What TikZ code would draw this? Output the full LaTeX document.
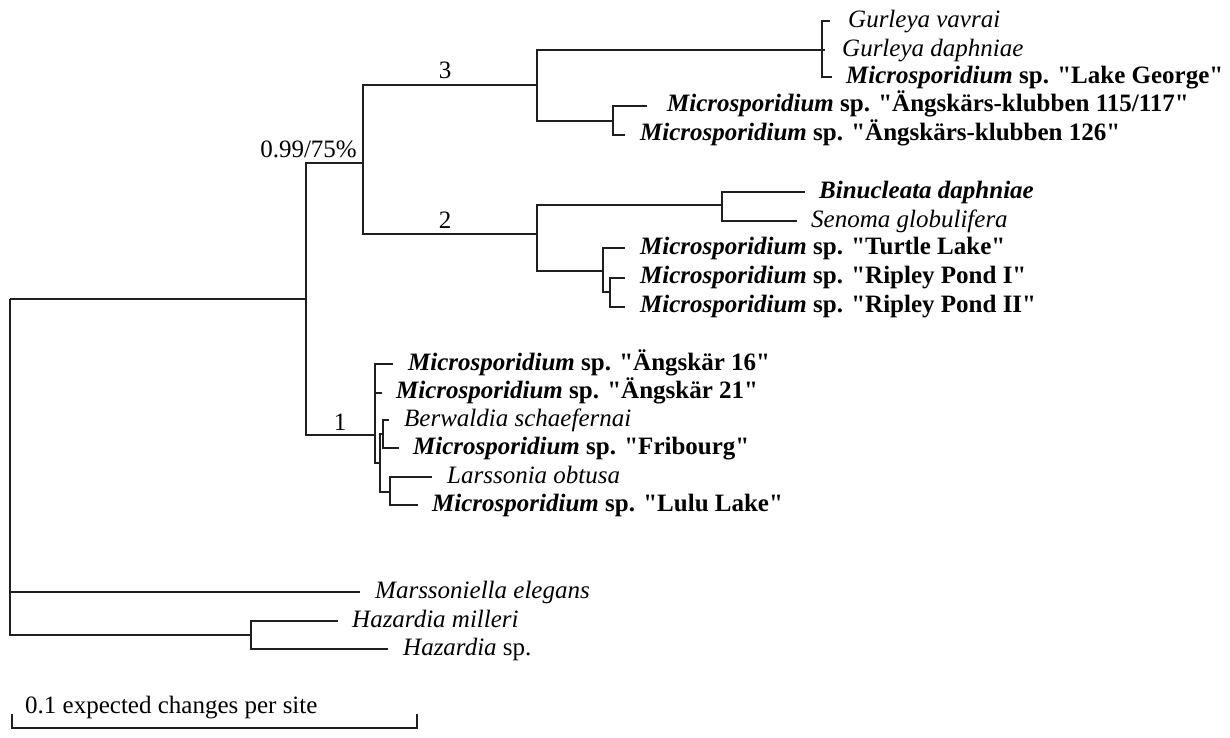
\documentclass[tikz,border=0pt]{standalone}
\usepackage{fontspec}
\setmainfont{Liberation Serif}[Ligatures=TeXOff]
\begin{document}
\begin{tikzpicture}[x=1pt,y=-1pt,
  br/.style={line width=2.8pt, line join=miter, line cap=butt, draw=black!88},
  leaf/.style={anchor=base west, inner sep=0pt, font=\fontsize{25}{30}\selectfont},
  blab/.style={anchor=base, inner sep=0pt, font=\fontsize{25}{30}\selectfont}]
\useasboundingbox (0,0) rectangle (1230,738);
\newcommand{\msp}[1]{\textbf{\textit{Microsporidium} sp. "#1"}}
% internal nodes
\coordinate (R) at (10,299);
\coordinate (I) at (306,299);
\coordinate (N99) at (363,163);
\coordinate (C3) at (537,85);
\coordinate (G) at (822,50);
\coordinate (K) at (613,121);
\coordinate (C2) at (537,234);
\coordinate (B) at (722,205);
\coordinate (T) at (603,271);
\coordinate (RP) at (610,292);
\coordinate (A) at (375,435);
\coordinate (E) at (380,463);
\coordinate (C) at (383,434);
\coordinate (D) at (390,492);
\coordinate (Hz) at (251,635);
% leaf tips
\coordinate (tvav) at (830,21);
\coordinate (tdaph) at (825,50);
\coordinate (tlg) at (832,77);
\coordinate (t115) at (647,106);
\coordinate (t126) at (625,135);
\coordinate (tbin) at (805,192);
\coordinate (tsen) at (797,221);
\coordinate (ttur) at (625,248);
\coordinate (tr1) at (625,278);
\coordinate (tr2) at (625,307);
\coordinate (ta16) at (393,364);
\coordinate (ta21) at (382,393);
\coordinate (tber) at (389,420);
\coordinate (tfri) at (399,448);
\coordinate (tlar) at (432,477);
\coordinate (tlul) at (418,505);
\coordinate (tmar) at (360,592);
\coordinate (tmil) at (338,621);
\coordinate (thsp) at (388,649);
% edges
\draw[br] (R) |- (I);
\draw[br] (R) |- (tmar);
\draw[br] (R) |- (Hz);
\draw[br] (I) |- (N99);
\draw[br] (I) |- (A);
\draw[br] (N99) |- (C3);
\draw[br] (N99) |- (C2);
\draw[br] (C3) |- (G);
\draw[br] (C3) |- (K);
\draw[br] (G) |- (tvav);
\draw[br] (G) |- (tdaph);
\draw[br] (G) |- (tlg);
\draw[br] (K) |- (t115);
\draw[br] (K) |- (t126);
\draw[br] (C2) |- (B);
\draw[br] (C2) |- (T);
\draw[br] (B) |- (tbin);
\draw[br] (B) |- (tsen);
\draw[br] (T) |- (ttur);
\draw[br] (T) |- (RP);
\draw[br] (RP) |- (tr1);
\draw[br] (RP) |- (tr2);
\draw[br] (A) |- (ta16);
\draw[br] (A) |- (ta21);
\draw[br] (A) |- (E);
\draw[br] (E) |- (C);
\draw[br] (E) |- (D);
\draw[br] (C) |- (tber);
\draw[br] (C) |- (tfri);
\draw[br] (D) |- (tlar);
\draw[br] (D) |- (tlul);
\draw[br] (Hz) |- (tmil);
\draw[br] (Hz) |- (thsp);
% leaf labels
\node[leaf] (lvav) at (848,28) {\textit{Gurleya vavrai}};
\node[leaf] (ldaph) at (842,57) {\textit{Gurleya daphniae}};
\node[leaf] (llg) at (846,84) {\msp{Lake George}};
\node[leaf] (l115) at (667,112) {\msp{Ängskärs-klubben 115/117}};
\node[leaf] (l126) at (640,141) {\msp{Ängskärs-klubben 126}};
\node[leaf] (lbin) at (819,198) {\textbf{\textit{Binucleata daphniae}}};
\node[leaf] (lsen) at (811,227) {\textit{Senoma globulifera}};
\node[leaf] (ltur) at (640,254) {\msp{Turtle Lake}};
\node[leaf] (lr1) at (640,283) {\msp{Ripley Pond I}};
\node[leaf] (lr2) at (640,312) {\msp{Ripley Pond II}};
\node[leaf] (la16) at (408,370) {\msp{Ängskär 16}};
\node[leaf] (la21) at (396,398) {\msp{Ängskär 21}};
\node[leaf] (lber) at (404,426) {\textit{Berwaldia schaefernai}};
\node[leaf] (lfri) at (413,454) {\msp{Fribourg}};
\node[leaf] (llar) at (447,483) {\textit{Larssonia obtusa}};
\node[leaf] (llul) at (432,511) {\msp{Lulu Lake}};
\node[leaf] (lmar) at (375,598) {\textit{Marssoniella elegans}};
\node[leaf] (lmil) at (352,627) {\textit{Hazardia milleri}};
\node[leaf] (lhsp) at (403,655) {\textit{Hazardia} sp.};
% branch support labels
\node[blab, anchor=base east] (s99) at (357,158) {0.99/75\%};
\node[blab] (s3) at (445,79) {3};
\node[blab] (s2) at (445,228) {2};
\node[blab] (s1) at (340,430) {1};
% scale bar
\coordinate (sbl) at (12,714);
\coordinate (sbr) at (417,714);
\draw[br] (sbl) |- (sbr |- 0,728) -- (sbr);
\node[leaf] (sbt) at (25,713) {0.1 expected changes per site};
\end{tikzpicture}
\end{document}
